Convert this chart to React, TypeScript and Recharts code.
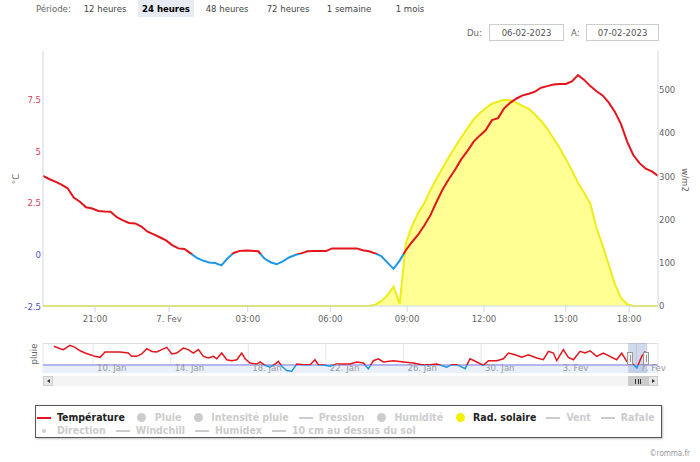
import React from 'react';
import {
  ComposedChart, Line, Area, XAxis, YAxis, CartesianGrid, ReferenceArea, ReferenceLine,
} from 'recharts';

// 24 h, axe ordinal : un pas = un point de mesure
const temperature = [
  3.8, 3.65, 3.52, 3.38, 3.2, 2.75, 2.55, 2.28, 2.22, 2.1,
  2.08, 2.07, 1.8, 1.65, 1.52, 1.5, 1.35, 1.1, 0.97, 0.83,
  0.68, 0.45, 0.29, 0.26, 0.05, -0.17, -0.3, -0.39, -0.42, -0.53,
  -0.2, 0.07, 0.17, 0.19, 0.17, 0.15, -0.2, -0.38, -0.48, -0.34,
  -0.15, -0.03, 0.05, 0.15, 0.16, 0.16, 0.16, 0.29, 0.29, 0.29,
  0.29, 0.29, 0.2, 0.15, 0.05, -0.08, -0.4, -0.7, -0.3, 0.2,
  0.6, 0.95, 1.4, 1.9, 2.55, 3.15, 3.65, 4.1, 4.6, 5.0,
  5.45, 5.75, 6.02, 6.5, 6.6, 7.08, 7.35, 7.55, 7.7, 7.78,
  7.88, 8.07, 8.15, 8.23, 8.25, 8.25, 8.38, 8.68, 8.45, 8.15,
  7.9, 7.7, 7.35, 6.9, 6.3, 5.45, 4.8, 4.42, 4.15, 4.02,
  3.8,
];

const radiation = [
  0, 0, 0, 0, 0, 0, 0, 0, 0, 0,
  0, 0, 0, 0, 0, 0, 0, 0, 0, 0,
  0, 0, 0, 0, 0, 0, 0, 0, 0, 0,
  0, 0, 0, 0, 0, 0, 0, 0, 0, 0,
  0, 0, 0, 0, 0, 0, 0, 0, 0, 0,
  0, 0, 0, 0,
  3, 11, 25, 45, 5, 145, 185, 215, 238, 268,
  295, 320, 345, 368, 390, 411, 431, 446, 458, 468,
  473, 477, 476, 470, 463, 456, 443, 428, 410, 388,
  366, 340, 314, 285, 262, 237, 180, 140, 95, 50,
  18, 4, 0, 0, 0, 0, 0,
];

const hourTicks = [8.46, 20.5, 33.3, 46.7, 59.2, 71.7, 85.0, 95.3];
const hourLabels = ['21:00', '7. Fev', '03:00', '06:00', '09:00', '12:00', '15:00', '18:00'];
const tempTicks = [-2.5, 0, 2.5, 5, 7.5];
const radTicks = [0, 100, 200, 300, 400, 500];

// navigateur : jour de janvier (32 = 1er février)
const navDays = [
  7.99, 8.30, 8.47, 8.81, 9.07, 9.33, 9.59, 9.85, 10.10, 10.36,
  10.62, 10.96, 11.39, 11.82, 11.99, 12.25, 12.51, 12.77, 13.03, 13.28,
  13.54, 13.80, 14.06, 14.31, 14.65, 14.91, 15.17, 15.43, 15.69, 15.94,
  16.20, 16.38, 16.63, 16.89, 17.15, 17.41, 17.66, 17.84, 18.09, 18.44,
  18.61, 18.87, 19.12, 19.38, 19.55, 19.73, 19.98, 20.24, 20.50, 20.84,
  21.19, 21.44, 21.61, 21.96, 22.22, 22.56, 23.25, 23.59, 23.93, 24.19,
  24.45, 24.71, 24.96, 25.48, 26.00, 26.51, 26.94, 27.37, 27.72, 28.23,
  28.49, 28.75, 29.18, 29.43, 29.78, 30.12, 30.38, 30.81, 31.15, 31.41,
  31.75, 32.10, 32.44, 32.87, 33.21, 33.47, 33.73, 33.90, 34.24, 34.50,
  34.76, 35.10, 35.36, 35.62, 35.96, 36.30, 36.74, 36.99, 37.25, 37.51,
  37.77, 38.03, 38.28, 38.45, 38.62,
];
const navTemps = [
  11.7, 10.2, 9.6, 12.3, 11, 8.9, 7.5, 6.4, 5.4, 4.8,
  8.1, 8.1, 8.1, 7.5, 5.4, 5.4, 6.9, 10.2, 8.5, 8.1,
  9.6, 11, 6.9, 7.5, 10.6, 9.6, 7.5, 9.6, 5.4, 4.4,
  5.4, 3.9, 7.5, 3.3, 2.7, 3.3, 7.5, 3.9, 1.25, 0.6,
  1.9, -0.2, -1.4, 0.6, 2.3, -0.8, -3.5, -3.9, 0.6, 0.2,
  0.2, 3.3, 0.2, -0.2, -0.8, 0.6, 0.6, 1.9, 1.25, -2.3,
  2.7, 3.9, 1.9, 2.7, 1.9, 1.25, 0.2, 0.2, 0.6, -1.4,
  0.2, 0.2, -2.3, 3.9, 1.9, -0.2, 2.7, 2.7, 3.9, 7.5,
  6.4, 4.8, 6.4, 4.4, 3.3, 8.5, 7.5, 2.7, 9.6, 4.8,
  3.3, 8.5, 7.5, 8.9, 5.4, 7.5, 4.8, 3.3, 7.5, 2.3,
  1.25, -1.9, 5.4, 8.1, 5.4,
];
const navTicks = [10, 14, 18, 22, 26, 30, 34, 38];
const navLabels = ['10. Jan', '14. Jan', '18. Jan', '22. Jan', '26. Jan', '30. Jan', '3. Fev', '7. Fev'];
const navWindow = [37.58, 38.56];

const periods = ['12 heures', '24 heures', '48 heures', '72 heures', '1 semaine', '1 mois'];
const selectedPeriod = '24 heures';
const dateFrom = '06-02-2023';
const dateTo = '07-02-2023';

const legendRow1 = ['Température', 'Pluie', 'Intensité pluie', 'Pression', 'Humidité', 'Rad. solaire', 'Vent', 'Rafale'];
const legendRow2 = ['Direction', 'Windchill', 'Humidex', '10 cm au dessus du sol'];
const dotSeries = ['Pluie', 'Intensité pluie', 'Humidité', 'Rad. solaire'];
const activeSeries = ['Température', 'Rad. solaire'];

const RED = '#e3141b';
const BLUE = '#1e96e8';
const FONT = '"DejaVu Sans Condensed", "DejaVu Sans", sans-serif';

const mainData = temperature.map((t, i) => ({ i, temp: t, rad: radiation[i] }));
const navData = navDays.map((d, k) => ({ d, t: navTemps[k] }));

const zeroOffset = (vals: number[]) => {
  const max = Math.max(...vals);
  const min = Math.min(...vals);
  if (max <= 0) return 0;
  if (min >= 0) return 1;
  return max / (max - min);
};

const TempTick = (props: any) => {
  const { x, y, payload } = props;
  return (
    <text x={x} y={y} dy={3.5} textAnchor="end" fontSize={9.5}
      fill={payload.value > 0 ? '#d9405c' : '#4a55c4'}>
      {String(payload.value)}
    </text>
  );
};

const NavTick = (props: any) => {
  const { x, y, payload } = props;
  return (
    <text x={x + 4} y={y - 2} textAnchor="start" fontSize={9.5} fill="#999">
      {navLabels[navTicks.indexOf(payload.value)]}
    </text>
  );
};

const LegendItem = ({ name }: { name: string }) => {
  const active = activeSeries.includes(name);
  const color = name === 'Température' ? RED : name === 'Rad. solaire' ? '#f2f200' : '#cccccc';
  let symbol;
  if (name === 'Direction') {
    symbol = <span style={{ width: 4, height: 4, borderRadius: 2, background: color }} />;
  } else if (dotSeries.includes(name)) {
    symbol = <span style={{ width: 9, height: 9, borderRadius: 5, background: color }} />;
  } else {
    symbol = <span style={{ width: 14, height: 2, background: color }} />;
  }
  return (
    <div style={{ display: 'flex', alignItems: 'center', marginRight: 9, height: 13 }}>
      <div style={{ width: 16, display: 'flex', justifyContent: 'center', alignItems: 'center' }}>{symbol}</div>
      <div style={{ marginLeft: 5, color: active ? '#222' : '#cccccc' }}>{name}</div>
    </div>
  );
};

const Rotated = ({ text, x, y, angle }: { text: string; x: number; y: number; angle: number }) => (
  <div style={{
    position: 'absolute', left: x, top: y, transform: `translate(-50%, -50%) rotate(${angle}deg)`,
    fontSize: 9.5, color: '#666', whiteSpace: 'nowrap',
  }}>{text}</div>
);

export default function App() {
  const tz = zeroOffset(temperature);
  const nz = zeroOffset(navTemps);
  const rowStyle: React.CSSProperties = { display: 'flex', alignItems: 'center', height: 13 };
  return (
    <div style={{ position: 'absolute', left: 0, top: 0, width: 700, height: 462, fontFamily: FONT, background: '#fff', overflow: 'hidden' }}>
      {/* période */}
      <div style={{ position: 'absolute', left: 36, top: 0, lineHeight: '17px', fontSize: 9.5, color: '#666' }}>Période:</div>
      <div style={{ position: 'absolute', left: 77, top: 0, display: 'flex', gap: 5 }}>
        {periods.map((p) => (
          <div key={p} style={{
            width: 56, height: 17, lineHeight: '17px', textAlign: 'center', fontSize: 9.5,
            color: p === selectedPeriod ? '#000' : '#444', fontWeight: p === selectedPeriod ? 'bold' : 'normal',
            background: p === selectedPeriod ? '#e6ebf5' : 'transparent',
          }}>{p}</div>
        ))}
      </div>
      <div style={{ position: 'absolute', left: 467, top: 24, lineHeight: '17px', fontSize: 9.5, color: '#666' }}>Du:</div>
      <div style={{ position: 'absolute', left: 489, top: 24, width: 75, height: 17, boxSizing: 'border-box', border: '1px solid #cccccc', lineHeight: '15px', textAlign: 'center', fontSize: 9.5, color: '#555' }}>{dateFrom}</div>
      <div style={{ position: 'absolute', left: 571, top: 24, lineHeight: '17px', fontSize: 9.5, color: '#666' }}>A:</div>
      <div style={{ position: 'absolute', left: 586, top: 24, width: 73, height: 17, boxSizing: 'border-box', border: '1px solid #cccccc', lineHeight: '15px', textAlign: 'center', fontSize: 9.5, color: '#555' }}>{dateTo}</div>

      {/* graphique principal */}
      <div style={{ position: 'absolute', left: 0, top: 0 }}>
        <ComposedChart width={700} height={335} data={mainData} margin={{ top: 51, right: 0, bottom: 0, left: 0 }}>
          <defs>
            <linearGradient id="tempStroke" x1="0" y1="0" x2="0" y2="1">
              <stop offset={0} stopColor={RED} />
              <stop offset={tz} stopColor={RED} />
              <stop offset={tz} stopColor={BLUE} />
              <stop offset={1} stopColor={BLUE} />
            </linearGradient>
          </defs>
          <XAxis dataKey="i" type="number" domain={[0, temperature.length - 1]} ticks={hourTicks}
            tickFormatter={(v) => hourLabels[hourTicks.indexOf(v)]} height={29}
            axisLine={{ stroke: '#ccd6eb' }} tickLine={{ stroke: '#ccd6eb' }} tickSize={6} tickMargin={3}
            tick={{ fill: '#666', fontSize: 9.5 }} interval={0} />
          <YAxis yAxisId="t" domain={[-2.5, 9.85]} ticks={tempTicks} width={43}
            axisLine={{ stroke: '#ccd6eb' }} tickLine={false} tickSize={0} tickMargin={2} tick={<TempTick />} interval={0} />
          <YAxis yAxisId="r" orientation="right" domain={[0, 590]} ticks={radTicks} width={42}
            axisLine={{ stroke: '#ccd6eb' }} tickLine={false} tickSize={0} tickMargin={1}
            tick={{ fill: '#666', fontSize: 9.5, textAnchor: 'start' }} interval={0} />
          <Area yAxisId="r" dataKey="rad" type="linear" stroke="#eded1a" strokeWidth={2}
            fill="#ffff00" fillOpacity={0.42} isAnimationActive={false} dot={false} activeDot={false} />
          <Line yAxisId="t" dataKey="temp" type="linear" stroke="url(#tempStroke)" strokeWidth={2}
            dot={false} activeDot={false} isAnimationActive={false} />
        </ComposedChart>
      </div>
      <Rotated text="°C" x={14.5} y={179} angle={-90} />
      <Rotated text="w/m2" x={685} y={180} angle={90} />

      {/* navigateur */}
      <div style={{ position: 'absolute', left: 43, top: 343, width: 615, height: 1, background: '#dddddd' }} />
      <div style={{ position: 'absolute', left: 0, top: 343 }}>
        <ComposedChart width={700} height={31} data={navData} margin={{ top: 0, right: 42, bottom: 0, left: 43 }}>
          <defs>
            <linearGradient id="navStroke" x1="0" y1="0" x2="0" y2="1">
              <stop offset={0} stopColor={RED} />
              <stop offset={nz} stopColor={RED} />
              <stop offset={nz} stopColor={BLUE} />
              <stop offset={1} stopColor={BLUE} />
            </linearGradient>
          </defs>
          <CartesianGrid horizontal={false} stroke="#e6e6e6" />
          <XAxis dataKey="d" type="number" domain={[7.42, 39.12]} ticks={navTicks} height={1}
            axisLine={false} tickLine={false} tickSize={0} tickMargin={0} tick={<NavTick />} interval={0} />
          <YAxis hide domain={[-5, 13.75]} />
          <ReferenceArea y1={-5} y2={0} fill="#e9f0fa" fillOpacity={1} stroke="none" />
          <ReferenceLine y={0} stroke="#9f9ff0" strokeWidth={1.5} />
          <Line dataKey="t" type="linear" stroke="url(#navStroke)" strokeWidth={1.5}
            dot={false} activeDot={false} isAnimationActive={false} />
          <ReferenceArea x1={navWindow[0]} x2={navWindow[1]} fill="#6685c2" fillOpacity={0.3} stroke="none" />
        </ComposedChart>
      </div>
      <Rotated text="pluie" x={33} y={354} angle={-90} />
      {[627, 643].map((hx) => (
        <div key={hx} style={{ position: 'absolute', left: hx, top: 352, width: 6, height: 13, boxSizing: 'border-box', border: '1px solid #999', background: '#f2f2f2', display: 'flex', justifyContent: 'center', alignItems: 'center' }}>
          <span style={{ width: 1, height: 7, background: '#999' }} />
        </div>
      ))}

      {/* barre de défilement */}
      <div style={{ position: 'absolute', left: 53, top: 376, width: 575, height: 10, background: '#f4f4f4' }} />
      <div style={{ position: 'absolute', left: 43, top: 376, width: 10, height: 10, boxSizing: 'border-box', border: '1px solid #cccccc', background: '#e6e6e6', display: 'flex', justifyContent: 'center', alignItems: 'center' }}>
        <span style={{ width: 0, height: 0, borderTop: '2.5px solid transparent', borderBottom: '2.5px solid transparent', borderRight: '3px solid #333' }} />
      </div>
      <div style={{ position: 'absolute', left: 628, top: 376, width: 20, height: 10, background: '#cccccc', display: 'flex', justifyContent: 'center', alignItems: 'center', gap: 1.5 }}>
        {[0, 1, 2].map((k) => <span key={k} style={{ width: 1, height: 5, background: '#333' }} />)}
      </div>
      <div style={{ position: 'absolute', left: 648, top: 376, width: 10, height: 10, boxSizing: 'border-box', border: '1px solid #cccccc', background: '#e6e6e6', display: 'flex', justifyContent: 'center', alignItems: 'center' }}>
        <span style={{ width: 0, height: 0, borderTop: '2.5px solid transparent', borderBottom: '2.5px solid transparent', borderLeft: '3px solid #333' }} />
      </div>

      {/* légende */}
      <div style={{
        position: 'absolute', left: 35, top: 405, width: 627, height: 33, boxSizing: 'border-box',
        border: '1px solid #555', boxShadow: '1px 1px 2px rgba(0,0,0,0.25)', paddingTop: 5,
        fontSize: 10.5, fontWeight: 'bold', lineHeight: '13px', whiteSpace: 'nowrap',
      }}>
        <div style={rowStyle}>{legendRow1.map((n) => <LegendItem key={n} name={n} />)}</div>
        <div style={rowStyle}>{legendRow2.map((n) => <LegendItem key={n} name={n} />)}</div>
      </div>

      <div style={{ position: 'absolute', right: 10, top: 449, fontSize: 8, color: '#999' }}>©romma.fr</div>
    </div>
  );
}
